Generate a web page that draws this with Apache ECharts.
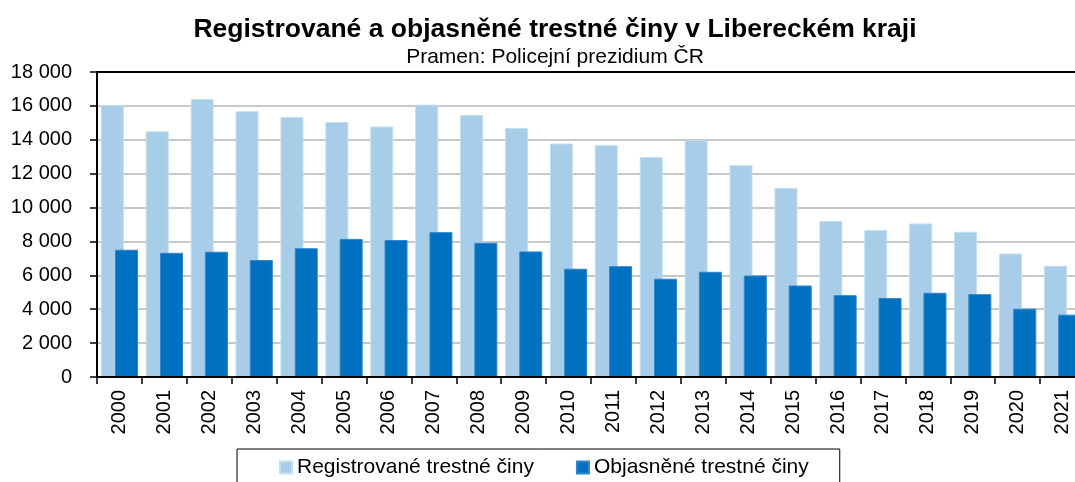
<!DOCTYPE html>
<html>
<head>
<meta charset="utf-8">
<script src="https://cdn.jsdelivr.net/npm/echarts@6/dist/echarts.min.js"></script>
<style>
html,body{margin:0;padding:0;background:#fff;}
#chart{width:1075px;height:482px;}
</style>
</head>
<body>
<div id="chart"></div>
<script>
var years = ['2000','2001','2002','2003','2004','2005','2006','2007','2008','2009','2010','2011','2012','2013','2014','2015','2016','2017','2018','2019','2020','2021'];
var registered = [16050,14500,16400,15680,15350,15050,14780,16070,15460,14700,13780,13680,12990,13970,12500,11160,9200,8670,9060,8570,7290,6560];
var solved = [7510,7330,7390,6900,7600,8150,8080,8550,7920,7410,6390,6540,5800,6210,5990,5400,4830,4660,4970,4890,4030,3680];
var seriesNames = ['Registrované trestné činy','Objasněné trestné činy'];
var yMin = 0, yMax = 18000, yStep = 2000;

var FONT = "'Liberation Sans', Arial, Helvetica, sans-serif";
function fmt(v){ return String(v).replace(/\B(?=(\d{3})+(?!\d))/g, ' '); }

var chart = echarts.init(document.getElementById('chart'), null, {renderer:'canvas'});
chart.setOption({
  animation:false,
  backgroundColor:'#fff',
  title:{
    text:'Registrované a objasněné trestné činy v Libereckém kraji',
    subtext:'Pramen: Policejní prezidium ČR',
    left:550, top:11, textAlign:'center', itemGap:4,
    textStyle:{fontFamily:FONT,fontSize:26.5,fontWeight:'bold',color:'#000'},
    subtextStyle:{fontFamily:FONT,fontSize:21,color:'#000'}
  },
  legend:{
    data:seriesNames,
    left:237, top:449,
    padding:[8,31,30,42],
    borderColor:'#000', borderWidth:1,
    itemWidth:12, itemHeight:12, itemGap:42,
    icon:'rect',
    textStyle:{fontFamily:FONT,fontSize:21,color:'#000'}
  },
  grid:{left:97, top:72, width:988, height:305, containLabel:false, outerBoundsMode:'none'},
  xAxis:[{
    type:'category', data:years, position:'bottom',
    axisLine:{lineStyle:{color:'#000',width:2}},
    axisTick:{show:true,length:7,lineStyle:{color:'#000',width:1.5}},
    axisLabel:{rotate:90,margin:13,fontFamily:FONT,fontSize:20,color:'#000',interval:0},
    z:5
  },{
    type:'category', data:years, position:'top',
    axisLine:{lineStyle:{color:'#000',width:2}},
    axisTick:{show:false}, axisLabel:{show:false}, splitLine:{show:false}
  }],
  yAxis:{
    type:'value', min:yMin, max:yMax, interval:yStep,
    axisLine:{show:true,lineStyle:{color:'#000',width:2}},
    axisTick:{show:true,length:7,lineStyle:{color:'#000',width:1.5}},
    axisLabel:{margin:25,fontFamily:FONT,fontSize:20,color:'#000',formatter:fmt},
    splitLine:{show:true,lineStyle:{color:'#c8c8c8',width:2}}
  },
  series:[{
    name:seriesNames[0], type:'bar', data:registered,
    barWidth:23, barGap:'-38%',
    itemStyle:{color:'#a7cde8',borderColor:'#c4def2',borderWidth:1}
  },{
    name:seriesNames[1], type:'bar', data:solved,
    barWidth:23, barGap:'-38%',
    itemStyle:{color:'#0070c0',borderColor:'#2f86cb',borderWidth:1}
  }]
});
</script>
</body>
</html>
